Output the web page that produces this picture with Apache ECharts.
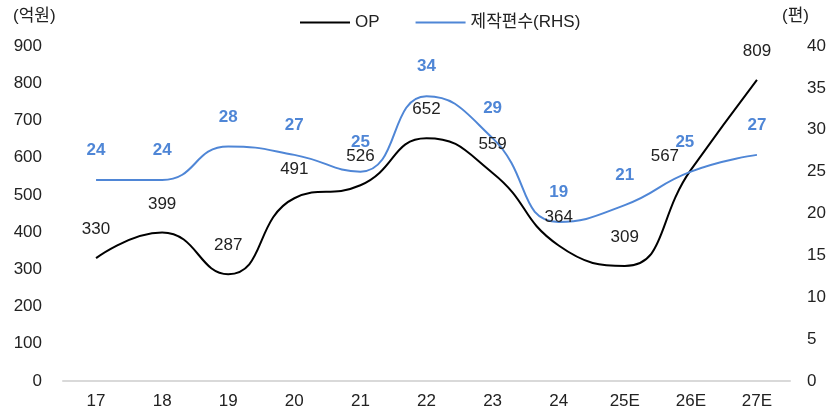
<!DOCTYPE html>
<html><head><meta charset="utf-8">
<script src="https://cdn.jsdelivr.net/npm/echarts@6/dist/echarts.min.js"></script>
<style>html,body{margin:0;padding:0;background:#fff}#c{width:834px;height:417px}</style>
</head><body><div id="c"></div>
<script>
const categories = ['17','18','19','20','21','22','23','24','25E','26E','27E'];
const opValues = [330,399,287,491,526,652,559,364,309,567,809];
const prodValues = [24,24,28,27,25,34,29,19,21,25,27];
const leftTicks = [0,900,100];
const rightTicks = [0,40,5];
const FONT = '"Liberation Sans","Noto Sans CJK KR",sans-serif';
// label nudges to avoid overlap at 26E (index 9)
const opLabelNudge = {9:[-26,15]};
const prodLabelNudge = {9:[-6,0]};
function withNudge(vals, nudge){
  return vals.map((v,i)=> nudge[i] ? {value:v, label:{offset:nudge[i]}} : v);
}
const chart = echarts.init(document.getElementById('c'));
chart.setOption({
  animation:false,
  textStyle:{fontFamily:FONT},
  grid:{left:63,right:44,top:46,bottom:36,containLabel:false},
  legend:{
    left:295, top:9, itemWidth:50, itemHeight:2, itemGap:36,
    icon:'rect',
    textStyle:{fontSize:17,color:'#222',fontFamily:FONT},
    data:[{name:'OP',itemStyle:{color:'#000',opacity:1}},{name:'제작편수(RHS)',itemStyle:{color:'#4F86D6',opacity:1}}]
  },
  graphic:[
    {type:'text',left:13,top:8,style:{text:'(억원)',fontSize:17,fill:'#222',fontFamily:FONT}},
    {type:'text',left:782,top:8,style:{text:'(편)',fontSize:17,fill:'#222',fontFamily:FONT}}
  ],
  xAxis:{
    type:'category', data:categories, boundaryGap:true,
    axisLine:{lineStyle:{color:'#d9d9d9',width:2}}, axisTick:{show:false},
    axisLabel:{fontSize:17,color:'#222',margin:12,fontFamily:FONT}
  },
  yAxis:[
    {type:'value',min:leftTicks[0],max:leftTicks[1],interval:leftTicks[2],
     splitLine:{show:false},axisLine:{show:false},axisTick:{show:false},
     axisLabel:{fontSize:17,color:'#222',margin:21,fontFamily:FONT}},
    {type:'value',min:rightTicks[0],max:rightTicks[1],interval:rightTicks[2],
     splitLine:{show:false},axisLine:{show:false},axisTick:{show:false},
     axisLabel:{fontSize:17,color:'#222',margin:17,fontFamily:FONT}}
  ],
  series:[
    {name:'OP',type:'line',data:withNudge(opValues,opLabelNudge),yAxisIndex:0,smooth:0.5,showSymbol:true,symbol:'circle',symbolSize:0,
     lineStyle:{color:'#000',width:2},itemStyle:{color:'#000'},
     label:{show:true,position:'top',distance:20,fontSize:17,color:'#222',fontFamily:FONT}},
    {name:'제작편수(RHS)',type:'line',data:withNudge(prodValues,prodLabelNudge),yAxisIndex:1,smooth:0.5,showSymbol:true,symbol:'circle',symbolSize:0,
     lineStyle:{color:'#4F86D6',width:2},itemStyle:{color:'#4F86D6'},
     label:{show:true,position:'top',distance:21,fontSize:17,fontWeight:'bold',color:'#4F86D6',fontFamily:FONT}}
  ]
});
</script></body></html>
